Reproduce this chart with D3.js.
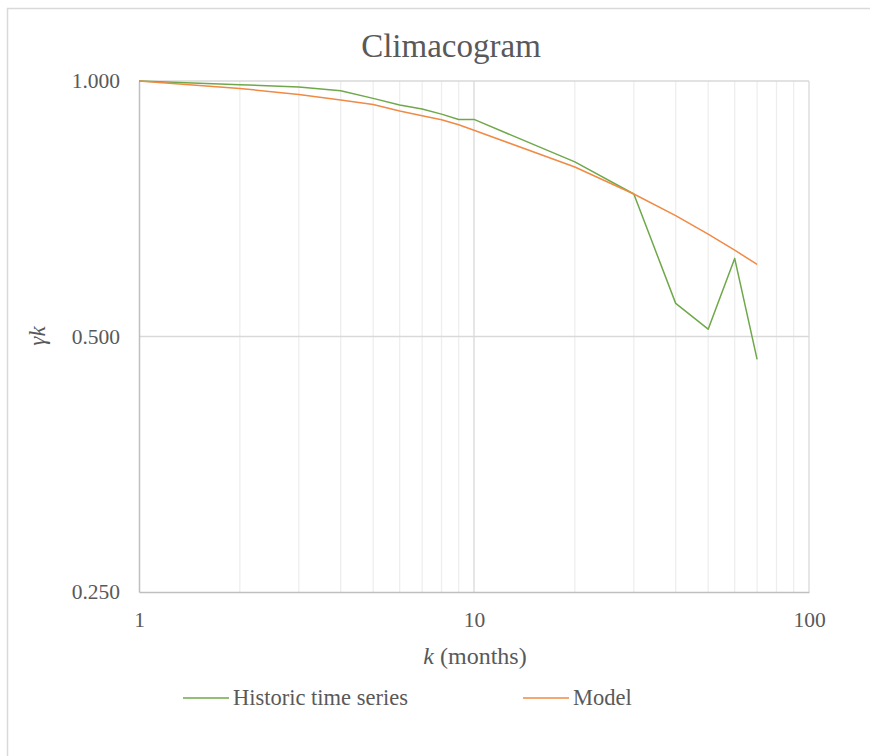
<!DOCTYPE html>
<html lang="en">
<head>
  <meta charset="UTF-8">
  <title>Climacogram</title>
  <style>
    body {
      margin: 0;
      padding: 0;
      background-color: #ffffff;
    }
    svg text {
      font-family: "Liberation Serif", "Times New Roman", serif;
      fill: #595959;
    }
    .grid-minor {
      stroke: #eeeeee;
      stroke-width: 1.3;
    }
    .grid-major {
      stroke: #d9d9d9;
      stroke-width: 1.3;
    }
    .series {
      fill: none;
      stroke-width: 1.5;
      stroke-linejoin: round;
    }
  </style>
</head>
<body>
  <div id="chart"></div>
  <script src="https://d3js.org/d3.v7.min.js"></script>
  <script>
    // aggregation scale k (months)
    const kValues = [1, 2, 3, 4, 5, 6, 7, 8, 9, 10, 20, 30, 40, 50, 60, 70];
    // climacogram values
    const historic = [1.000, 0.990, 0.984, 0.974, 0.954, 0.937, 0.927, 0.914, 0.901, 0.901, 0.803, 0.736, 0.547, 0.510, 0.618, 0.470];
    const model = [1.000, 0.980, 0.964, 0.950, 0.938, 0.922, 0.910, 0.900, 0.888, 0.875, 0.792, 0.736, 0.694, 0.660, 0.632, 0.608];

    const xTicks = [1, 10, 100];
    const yTicks = [1, 0.5, 0.25];
    const seriesNames = ["Historic time series", "Model"];
    const seriesColors = ["#6FA84A", "#F08A45"];

    const width = 870;
    const height = 756;
    const plot = { left: 139, right: 809, top: 81, bottom: 592 };

    const svg = d3.select("#chart")
      .append("svg")
      .attr("width", width)
      .attr("height", height);

    // chart frame
    svg.append("rect")
      .attr("x", 7.5)
      .attr("y", 8.5)
      .attr("width", 900)
      .attr("height", 800)
      .attr("fill", "#fff")
      .attr("stroke", "#d9d9d9")
      .attr("stroke-width", 1.5);

    const x = d3.scaleLog().domain([1, 100]).range([plot.left, plot.right]);
    const y = d3.scaleLog().base(2).domain([0.25, 1]).range([plot.bottom, plot.top]);

    // vertical grid lines (minor + major)
    const minor = [];
    [1, 10].forEach(d => { for (let i = 2; i <= 9; i++) minor.push(d * i); });

    svg.append("g")
      .selectAll("line")
      .data(minor)
      .enter()
      .append("line")
      .attr("class", "grid-minor")
      .attr("x1", d => x(d)).attr("x2", d => x(d))
      .attr("y1", plot.top).attr("y2", plot.bottom);

    svg.append("g")
      .selectAll("line")
      .data(xTicks.slice(1))
      .enter()
      .append("line")
      .attr("class", "grid-major")
      .attr("x1", d => x(d)).attr("x2", d => x(d))
      .attr("y1", plot.top).attr("y2", plot.bottom);

    svg.append("g")
      .selectAll("line")
      .data(yTicks.slice(0, 2))
      .enter()
      .append("line")
      .attr("class", "grid-major")
      .attr("x1", plot.left).attr("x2", plot.right)
      .attr("y1", d => y(d)).attr("y2", d => y(d));

    // axes
    const xAxis = svg.append("g")
      .attr("transform", `translate(0,${plot.bottom})`)
      .call(d3.axisBottom(x).tickValues(xTicks).tickFormat(d3.format("d")).tickSize(0).tickPadding(20));
    xAxis.select(".domain").attr("stroke", "#bfbfbf").attr("stroke-width", 1.5);
    xAxis.selectAll("text").style("font-size", "21.5px").attr("fill", "#595959");

    const yAxis = svg.append("g")
      .attr("transform", `translate(${plot.left},0)`)
      .call(d3.axisLeft(y).tickValues(yTicks).tickFormat(d3.format(".3f")).tickSize(0).tickPadding(19));
    yAxis.select(".domain").attr("stroke", "#bfbfbf").attr("stroke-width", 1.5);
    yAxis.selectAll("text").style("font-size", "21.5px").attr("fill", "#595959");

    // series
    const line = d3.line()
      .x((d, i) => x(kValues[i]))
      .y(d => y(d));

    [historic, model].forEach((s, i) => {
      svg.append("path")
        .datum(s)
        .attr("class", "series")
        .attr("stroke", seriesColors[i])
        .attr("d", line);
    });

    // title
    svg.append("text")
      .attr("x", 451)
      .attr("y", 57)
      .attr("text-anchor", "middle")
      .style("font-size", "33px")
      .text("Climacogram");

    // axis titles
    const xt = svg.append("text")
      .attr("x", 475)
      .attr("y", 664)
      .attr("text-anchor", "middle")
      .style("font-size", "24px");
    xt.append("tspan").style("font-style", "italic").text("k");
    xt.append("tspan").text(" (months)");

    svg.append("text")
      .attr("transform", "translate(45,336) rotate(-90)")
      .attr("text-anchor", "middle")
      .style("font-size", "23px")
      .style("font-style", "italic")
      .text("γk");

    // legend
    const legendX = [183, 523];
    const legend = svg.append("g");
    seriesNames.forEach((name, i) => {
      legend.append("line")
        .attr("x1", legendX[i]).attr("x2", legendX[i] + 46)
        .attr("y1", 698).attr("y2", 698)
        .attr("stroke", seriesColors[i])
        .attr("stroke-width", 1.5);
      legend.append("text")
        .attr("x", legendX[i] + 50)
        .attr("y", 705)
        .style("font-size", "22.5px")
        .text(name);
    });
  </script>
</body>
</html>
